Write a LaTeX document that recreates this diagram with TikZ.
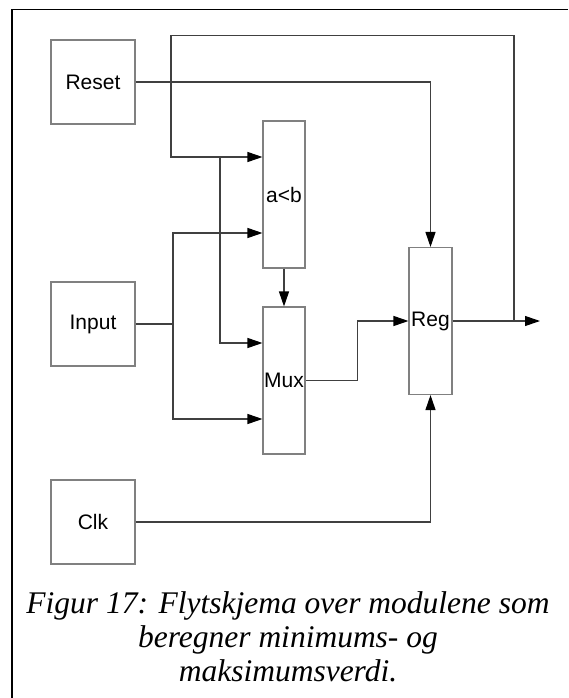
\documentclass[tikz,border=0pt]{standalone}
\usepackage{fontspec}
\setmainfont{Liberation Serif}
\setsansfont{Liberation Sans}
\usepackage{tikz}
\usetikzlibrary{arrows.meta, positioning, calc}
\definecolor{boxgray}{HTML}{808080}
\definecolor{wiregray}{HTML}{404040}

\begin{document}
\begin{tikzpicture}[x=1pt, y=-1pt,
    block/.style={draw=boxgray, line width=1.1pt, inner sep=0pt, font=\sffamily\fontsize{21}{24}\selectfont},
    iobox/.style={block, minimum width=84pt, minimum height=84pt},
    unit/.style={block, minimum width=42pt, minimum height=147pt},
    wire/.style={draw=wiregray, line width=1.1pt},
    arr/.style={wire, -{Triangle[length=15pt, width=10pt, color=black]}},
    caption/.style={font=\itshape\fontsize{31.5}{34}\selectfont, anchor=base, inner sep=0pt}]
\useasboundingbox (0,0) rectangle (568,698);
% frame
\draw[line width=1.3pt] (12,698) -- (12,9.5) -- (568,9.5);
% blocks
\node[iobox] (reset) at (93,82) {Reset};
\node[iobox] (input) at (93,324) {Input};
\node[iobox] (clk) at (93,522) {Clk};
\node[unit] (cmp) at (284,194.5) {a<b};
\node[unit] (mux) at (284,380.5) {Mux};
\node[unit, minimum width=43pt] (reg) at (430.5,321) {Reg};
% junction points
\coordinate (inbus) at (173,324);
\coordinate (split) at (220,157);
\coordinate (tap) at (504,321);
\coordinate (out) at (540,321);
% connections
\draw[arr] (reset.east) -| (reg.north);
\draw[arr] (clk.east) -| (reg.south);
\draw[wire] (input.east) -- (inbus);
\draw[arr] (inbus) |- ([yshift=-38.5pt]cmp.west);
\draw[arr] (inbus) |- ([yshift=-38.5pt]mux.west);
\draw[arr] (cmp.south) -- (mux.north);
\draw[arr] (mux.east) -- ++(52,0) |- (reg.west);
\draw[arr] (reg.east) -- (out);
\draw[arr] (tap) -- ++(10,0) |- (171,35.5) |- ([yshift=37.5pt]cmp.west);
\draw[arr] (split) |- ([yshift=37.5pt]mux.west);
% caption
\foreach \i/\txt in {0/Figur 17: Flytskjema over modulene som,
    1/beregner minimums- og, 2/maksimumsverdi.}{
    \node[caption] (cap\i) at (288, 613+\i*34) {\txt};
}
\end{tikzpicture}
\end{document}
